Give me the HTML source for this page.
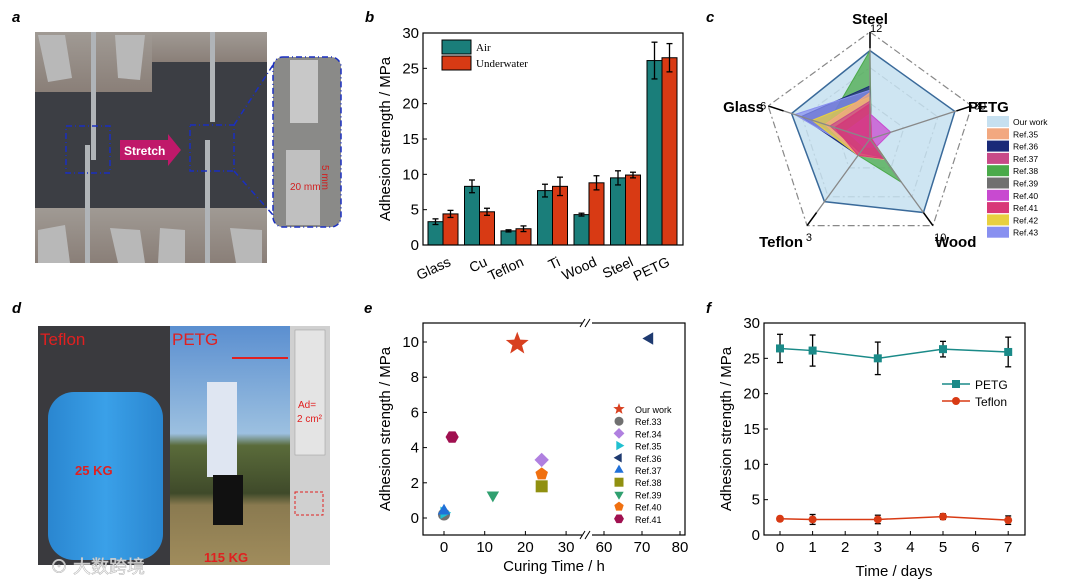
<!DOCTYPE html>
<html><head><meta charset="utf-8"><style>
html,body{margin:0;padding:0;background:#fff}
svg{display:block;font-family:"Liberation Sans","Noto Sans CJK SC",sans-serif}
</style></head><body>
<svg id="fig" width="1080" height="585" viewBox="0 0 1080 585" xmlns="http://www.w3.org/2000/svg">
<defs>
<linearGradient id="metal" x1="0" y1="0" x2="0" y2="1"><stop offset="0" stop-color="#a09a94"/><stop offset="1" stop-color="#8a7f78"/></linearGradient>
<linearGradient id="sky" x1="0" y1="0" x2="0" y2="1"><stop offset="0" stop-color="#5b8fd0"/><stop offset="0.45" stop-color="#9cc0e0"/><stop offset="0.5" stop-color="#5a6b3a"/><stop offset="0.7" stop-color="#3f4a2a"/><stop offset="0.75" stop-color="#8a7a50"/><stop offset="1" stop-color="#a08c5c"/></linearGradient>
<linearGradient id="jug" x1="0" y1="0" x2="1" y2="0"><stop offset="0" stop-color="#2a86d0"/><stop offset="0.5" stop-color="#3aa0e8"/><stop offset="1" stop-color="#2a86d0"/></linearGradient>
</defs>

<!-- Panel a -->
<g>
<text x="12" y="22" font-size="15" font-weight="bold" font-style="italic">a</text>
<rect x="35" y="32" width="232" height="231" fill="#3c3e44"/>
<rect x="35" y="32" width="117" height="60" fill="url(#metal)"/>
<rect x="152" y="32" width="115" height="30" fill="url(#metal)"/>
<rect x="35" y="208" width="117" height="55" fill="url(#metal)"/>
<rect x="152" y="208" width="115" height="55" fill="url(#metal)"/>
<polygon points="38,35 65,35 72,78 48,82" fill="#b8b8b8"/>
<polygon points="115,35 145,35 140,80 118,78" fill="#b8b8b8"/>
<polygon points="38,230 65,225 70,263 38,263" fill="#b8b8b8"/>
<polygon points="110,228 140,230 145,263 118,263" fill="#b8b8b8"/>
<polygon points="160,228 185,230 185,263 158,263" fill="#b8b8b8"/>
<polygon points="230,228 262,230 262,263 236,263" fill="#b8b8b8"/>
<rect x="91" y="32" width="5" height="128" fill="#b0b4b8"/>
<rect x="85" y="145" width="5" height="118" fill="#b0b4b8"/>
<rect x="210" y="32" width="5" height="90" fill="#b0b4b8"/>
<rect x="205" y="140" width="5" height="123" fill="#b0b4b8"/>
<rect x="66" y="126" width="44" height="47" fill="none" stroke="#1a2fc0" stroke-width="1.5" stroke-dasharray="6,3,1,3"/>
<rect x="190" y="125" width="44" height="46" fill="none" stroke="#1a2fc0" stroke-width="1.5" stroke-dasharray="6,3,1,3"/>
<polygon points="120,140 168,140 168,134 181,150 168,166 168,160 120,160" fill="#c0186a"/>
<text x="124" y="155" font-size="12" font-weight="bold" fill="#fff">Stretch</text>
<rect x="273" y="57" width="68" height="170" rx="10" fill="#8a8a88" stroke="#1a2fc0" stroke-width="1.5" stroke-dasharray="6,3,1,3"/>
<rect x="290" y="60" width="28" height="63" fill="#c8c8c8"/>
<rect x="286" y="150" width="34" height="75" fill="#c0c0c0"/>
<line x1="234" y1="125" x2="273" y2="65" stroke="#1a2fc0" stroke-width="1.5" stroke-dasharray="6,3,1,3"/>
<line x1="234" y1="171" x2="273" y2="215" stroke="#1a2fc0" stroke-width="1.5" stroke-dasharray="6,3,1,3"/>
<text x="290" y="190" font-size="10" fill="#d02020">20 mm</text>
<text x="322" y="165" font-size="10" fill="#d02020" transform="rotate(90 322 165)">5 mm</text>
</g>

<!-- Panel d -->
<g>
<text x="12" y="313" font-size="15" font-weight="bold" font-style="italic">d</text>
<rect x="38" y="326" width="132" height="239" fill="#3a3a3e"/>
<rect x="48" y="392" width="115" height="168" rx="26" fill="url(#jug)"/>
<rect x="170" y="326" width="120" height="239" fill="url(#sky)"/>
<rect x="207" y="382" width="30" height="95" fill="#dfe6f2"/>
<rect x="213" y="475" width="30" height="50" fill="#111"/>
<rect x="290" y="326" width="40" height="239" fill="#d0d0d0"/>
<rect x="295" y="330" width="30" height="125" fill="#e4e4e4" stroke="#999" stroke-width="0.5"/>
<line x1="232" y1="358" x2="288" y2="358" stroke="#e02020" stroke-width="2"/>
<rect x="295" y="492" width="28" height="23" fill="none" stroke="#e02020" stroke-dasharray="3,2"/>
<text x="40" y="345" font-size="17" fill="#e02020">Teflon</text>
<text x="172" y="345" font-size="17" fill="#e02020">PETG</text>
<text x="75" y="475" font-size="13" font-weight="bold" fill="#e02020">25 KG</text>
<text x="204" y="562" font-size="13" font-weight="bold" fill="#e02020">115 KG</text>
<text x="298" y="408" font-size="10" fill="#e02020">Ad=</text>
<text x="297" y="422" font-size="10" fill="#e02020">2 cm²</text>
<text x="50" y="573" font-size="18" fill="#ffffff" fill-opacity="0.75" stroke="#bbb" stroke-width="0.6">⊙ 大数跨境</text>
</g>

<!-- Panel b -->
<g id="pb">
<text x="365" y="22" font-size="15" font-weight="bold" font-style="italic">b</text>
</g>
<!-- Panel c -->
<g id="pc">
<text x="706" y="22" font-size="15" font-weight="bold" font-style="italic">c</text>
</g>
<!-- Panel e -->
<g id="pe">
<text x="364" y="313" font-size="15" font-weight="bold" font-style="italic">e</text>
</g>
<!-- Panel f -->
<g id="pf">
<text x="706" y="313" font-size="15" font-weight="bold" font-style="italic">f</text>
</g>
</svg>
<script>
// ---------- Panel b data ----------
const bCategories = ["Glass","Cu","Teflon","Ti","Wood","Steel","PETG"];
const bAir = [3.3,8.3,2.0,7.7,4.3,9.5,26.1];
const bAirErr = [0.4,0.9,0.15,0.9,0.2,1.0,2.6];
const bWater = [4.4,4.7,2.3,8.3,8.8,9.9,26.5];
const bWaterErr = [0.5,0.5,0.4,1.3,1.0,0.4,2.0];
const bTicks = [0,5,10,15,20,25,30];
// ---------- Panel c data (Steel, PETG, Wood, Teflon, Glass) ----------
const cAxes = ["Steel","PETG","Wood","Teflon","Glass"];
const cMax = [12,30,10,3,6];
const cSeriesNames = ["Our work","Ref.35","Ref.36","Ref.37","Ref.38","Ref.39","Ref.40","Ref.41","Ref.42","Ref.43"];
const cColors = ["#c6e0f0","#f2a880","#1a2a78","#c84a88","#4aaa4a","#707070","#c84ad0","#d83878","#e8d040","#8890f0"];
const cOurs = [10.5,26.5,9.0,2.3,4.9];
const cRef35 = [5.5,0.5,2.5,0.6,2.8];
const cRef36 = [6.3,0.5,2.4,0.6,4.3];
const cRef37 = [4.5,0.3,2.3,0.5,2.5];
const cRef38 = [10.5,0.4,5.3,0.6,2.7];
const cRef39 = [4.0,0.3,2.2,0.5,2.2];
const cRef40 = [3.0,6.5,1.0,0.3,1.5];
const cRef41 = [4.2,0.4,2.4,0.6,2.2];
const cRef42 = [5.0,0.4,2.4,0.6,3.6];
const cRef43 = [5.8,0.4,2.3,0.5,4.7];
// ---------- Panel e data ----------
const eNames = ["Our work","Ref.33","Ref.34","Ref.35","Ref.36","Ref.37","Ref.38","Ref.39","Ref.40","Ref.41"];
const eX = [18,0,24,0,72,0,24,12,24,2];
const eY = [9.9,0.2,3.3,0.3,10.2,0.4,1.8,1.3,2.5,4.6];
const eColors = ["#d84020","#707070","#b080e0","#20c0d0","#1e3a70","#2070d8","#909010","#30a070","#f07010","#a01050"];
const eShapes = ["star","circle","diamond","tri-right","tri-left","tri-up","square","tri-down","pentagon","hexagon"];
const eYTicks = [0,2,4,6,8,10];
const eXTicks = [0,10,20,30,60,70,80];
// ---------- Panel f data ----------
const fDays = [0,1,3,5,7];
const fPETG = [26.4,26.1,25.0,26.3,25.9];
const fPETGErr = [2.0,2.2,2.3,1.1,2.1];
const fTeflon = [2.3,2.2,2.2,2.6,2.1];
const fTeflonErr = [0.3,0.7,0.6,0.4,0.6];
const fYTicks = [0,5,10,15,20,25,30];
const fXTicks = [0,1,2,3,4,5,6,7];

const NS="http://www.w3.org/2000/svg";
function mk(parent,tag,attrs,text){const e=document.createElementNS(NS,tag);for(const k in attrs)e.setAttribute(k,attrs[k]);if(text!==undefined)e.textContent=text;parent.appendChild(e);return e;}

// ===== Panel b =====
(function(){
const g=document.getElementById('pb');
const L=423,R=683,T=33,B=245;
const y=v=>B-(v/30)*(B-T);
const x0=443,step=36.5,bw=15;
bCategories.forEach((c,i)=>{
 const cx=x0+step*i;
 const ra=mk(g,'rect',{x:cx-bw,y:y(bAir[i]),width:bw,height:B-y(bAir[i]),fill:'#1a7e7a',stroke:'#000','stroke-width':1});
 
 
 const rw=mk(g,'rect',{x:cx,y:y(bWater[i]),width:bw,height:B-y(bWater[i]),fill:'#d83a14',stroke:'#000','stroke-width':1});
 
 
 [[cx-bw/2,bAir[i],bAirErr[i]],[cx+bw/2,bWater[i],bWaterErr[i]]].forEach(([ex,v,e])=>{
  mk(g,'line',{x1:ex,x2:ex,y1:y(v+e),y2:y(v-e),stroke:'#000','stroke-width':1.3});
  mk(g,'line',{x1:ex-3,x2:ex+3,y1:y(v+e),y2:y(v+e),stroke:'#000','stroke-width':1.3});
  mk(g,'line',{x1:ex-3,x2:ex+3,y1:y(v-e),y2:y(v-e),stroke:'#000','stroke-width':1.3});
 });
 const t=mk(g,'text',{x:cx+4,y:B+10,'font-size':14,'text-anchor':'end',transform:`rotate(-25 ${cx+4} ${B+10})`,dy:'0.8em'},c);
 
 
});
const fr=mk(g,'rect',{x:L,y:T,width:R-L,height:B-T,fill:'none',stroke:'#000','stroke-width':1.2});


bTicks.forEach(v=>{
 mk(g,'line',{x1:L,x2:L+4,y1:y(v),y2:y(v),stroke:'#000'});
 const t=mk(g,'text',{x:L-4,y:y(v)+5,'font-size':15,'text-anchor':'end'},v);
 
 
});
const yt=mk(g,'text',{x:390,y:(T+B)/2,'font-size':15,'text-anchor':'middle',transform:`rotate(-90 390 ${(T+B)/2})`},'Adhesion strength / MPa');


[['Air','#1a7e7a',40],['Underwater','#d83a14',56]].forEach(([n,c,yy])=>{
 mk(g,'rect',{x:442,y:yy,width:29,height:14,fill:c,stroke:'#000'});
 const t=mk(g,'text',{x:476,y:yy+11,'font-size':11,'font-family':'Liberation Serif, serif'},n);
 
 
});
})();

// ===== Panel c =====
(function(){
const g=document.getElementById('pc');
const cx=870,cy=139,Rr=101;
const ang=i=>(-90+72*i)*Math.PI/180;
const pt=(i,f)=>[cx+Rr*f*Math.cos(ang(i)),cy+Rr*f*Math.sin(ang(i))];
const poly=vals=>vals.map((v,i)=>pt(i,v/cMax[i]).join(',')).join(' ');
// outer dashed rings
[1,2/3,1/3].forEach(f=>{
 mk(g,'polygon',{points:[0,1,2,3,4].map(i=>pt(i,f*1.06).join(',')).join(' '),fill:'none',stroke:'#888','stroke-width':1.2,'stroke-dasharray':'7,3,2,3'});
});
const series=[cOurs,cRef35,cRef36,cRef37,cRef38,cRef39,cRef40,cRef41,cRef42,cRef43];
const order=[0,4,2,9,8,1,5,3,6,7];
order.forEach(k=>{
 const p=mk(g,'polygon',{points:poly(series[k]),fill:cColors[k],'fill-opacity':k===0?0.85:0.75,stroke:k===0?'#3a6a9a':cColors[k],'stroke-width':k===0?1.5:1});
 
 
});
[0,1,2,3,4].forEach(i=>{
 const [ex,ey]=pt(i,1.06);
 mk(g,'line',{x1:cx,y1:cy,x2:ex,y2:ey,stroke:'#888','stroke-width':1.3});
 const [ix,iy]=pt(i,0.9);
 mk(g,'line',{x1:ix,y1:iy,x2:ex,y2:ey,stroke:'#000','stroke-width':1.5});
 const [tx,ty]=pt(i,1.08);
 mk(g,'text',{x:tx,y:ty+(i===0?2:i>=2&&i<=3?14:4),'font-size':11,'text-anchor':i===4?'end':'start'},cMax[i]);
});
const labels=[[870,24,'middle'],[968,112,'start'],[935,247,'start'],[803,247,'end'],[764,112,'end']];
cAxes.forEach((a,i)=>{
 const t=mk(g,'text',{x:labels[i][0],y:labels[i][1],'font-size':15,'font-weight':'bold','text-anchor':labels[i][2]},a);
 
 
});
cSeriesNames.forEach((n,i)=>{
 const yy=116+i*12.3;
 mk(g,'rect',{x:987,y:yy,width:22,height:11,fill:cColors[i]});
 const t=mk(g,'text',{x:1013,y:yy+9,'font-size':8.5},n);
 
 
});
})();

// ===== Panel e =====
(function(){
const g=document.getElementById('pe');
const L=423,R=685,T=323,B=535;
const y=v=>518-v*17.6;
const x=h=>h<=35?444+h*4.07:604+(h-60)*3.8;
function shape(s,px,py,c,r){
 let p;
 const reg=(n,rot,rr)=>Array.from({length:n},(_,k)=>{const a=(rot+360*k/n)*Math.PI/180;return [px+rr*Math.cos(a),py+rr*Math.sin(a)].join(',');}).join(' ');
 if(s==='circle')return mk(g,'circle',{cx:px,cy:py,r:r,fill:c});
 if(s==='square')return mk(g,'rect',{x:px-r,y:py-r,width:2*r,height:2*r,fill:c});
 if(s==='star'){p=Array.from({length:10},(_,k)=>{const a=(-90+36*k)*Math.PI/180;const rr=k%2?r*0.42:r;return [px+rr*Math.cos(a),py+rr*Math.sin(a)].join(',');}).join(' ');}
 else if(s==='diamond')p=reg(4,-90,r*1.2);
 else if(s==='tri-up')p=reg(3,-90,r*1.2);
 else if(s==='tri-down')p=reg(3,90,r*1.2);
 else if(s==='tri-left')p=reg(3,180,r*1.2);
 else if(s==='tri-right')p=reg(3,0,r*1.2);
 else if(s==='pentagon')p=reg(5,-90,r*1.1);
 else p=reg(6,0,r*1.1);
 return mk(g,'polygon',{points:p,fill:c});
}
eX.forEach((h,i)=>{
 const m=shape(eShapes[i],x(h),y(eY[i]),eColors[i],i===0?12:6);
 
 
});
const fr=mk(g,'rect',{x:L,y:T,width:R-L,height:B-T,fill:'none',stroke:'#000','stroke-width':1.2});


mk(g,'rect',{x:582,y:318,width:10,height:10,fill:'#fff'});
mk(g,'rect',{x:582,y:530,width:10,height:10,fill:'#fff'});
[[582],[587]].forEach(([bx])=>{mk(g,'line',{x1:bx-2,y1:327,x2:bx+3,y2:319,stroke:'#000'});mk(g,'line',{x1:bx-2,y1:539,x2:bx+3,y2:531,stroke:'#000'});});
eYTicks.forEach(v=>{
 mk(g,'line',{x1:L,x2:L+4,y1:y(v),y2:y(v),stroke:'#000'});
 const t=mk(g,'text',{x:L-4,y:y(v)+5,'font-size':15,'text-anchor':'end'},v);
 
 
});
eXTicks.forEach(v=>{
 mk(g,'line',{x1:x(v),x2:x(v),y1:B,y2:B-4,stroke:'#000'});
 const t=mk(g,'text',{x:x(v),y:B+17,'font-size':15,'text-anchor':'middle'},v);
 
 
});
const xt=mk(g,'text',{x:554,y:571,'font-size':15,'text-anchor':'middle'},'Curing Time / h');


const yt=mk(g,'text',{x:390,y:429,'font-size':15,'text-anchor':'middle',transform:'rotate(-90 390 429)'},'Adhesion strength / MPa');


eNames.forEach((n,i)=>{
 const yy=409+i*12.2;
 const m=shape(eShapes[i],619,yy,eColors[i],i===0?6:4.5);
 const t=mk(g,'text',{x:635,y:yy+4,'font-size':9},n);
 
 
});
})();

// ===== Panel f =====
(function(){
const g=document.getElementById('pf');
const L=764,R=1025,T=323,B=535;
const y=v=>B-(v/30)*(B-T);
const x=d=>780+d*32.6;
function series(vals,errs,col,name,circ){
 mk(g,'polyline',{points:fDays.map((d,i)=>x(d)+','+y(vals[i])).join(' '),fill:'none',stroke:col,'stroke-width':1.5});
 fDays.forEach((d,i)=>{
  const px=x(d),v=vals[i],e=errs[i];
  mk(g,'line',{x1:px,x2:px,y1:y(v+e),y2:y(v-e),stroke:'#000','stroke-width':1.3});
  mk(g,'line',{x1:px-3,x2:px+3,y1:y(v+e),y2:y(v+e),stroke:'#000','stroke-width':1.3});
  mk(g,'line',{x1:px-3,x2:px+3,y1:y(v-e),y2:y(v-e),stroke:'#000','stroke-width':1.3});
  const m=circ?mk(g,'circle',{cx:px,cy:y(v),r:4,fill:col}):mk(g,'rect',{x:px-4,y:y(v)-4,width:8,height:8,fill:col});
  
  
 });
}
series(fPETG,fPETGErr,'#1a8a88','petg',false);
series(fTeflon,fTeflonErr,'#d83a14','teflon',true);
const fr=mk(g,'rect',{x:L,y:T,width:R-L,height:B-T,fill:'none',stroke:'#000','stroke-width':1.2});


fYTicks.forEach(v=>{
 mk(g,'line',{x1:L,x2:L+4,y1:y(v),y2:y(v),stroke:'#000'});
 const t=mk(g,'text',{x:L-4,y:y(v)+5,'font-size':15,'text-anchor':'end'},v);
 
 
});
fXTicks.forEach(v=>{
 mk(g,'line',{x1:x(v),x2:x(v),y1:B,y2:B-4,stroke:'#000'});
 const t=mk(g,'text',{x:x(v),y:B+17,'font-size':15,'text-anchor':'middle'},v);
 
 
});
const xt=mk(g,'text',{x:894,y:576,'font-size':15,'text-anchor':'middle'},'Time / days');


const yt=mk(g,'text',{x:731,y:429,'font-size':15,'text-anchor':'middle',transform:'rotate(-90 731 429)'},'Adhesion strength / MPa');


[['PETG','#1a8a88',384,false],['Teflon','#d83a14',401,true]].forEach(([n,c,yy,circ])=>{
 mk(g,'line',{x1:942,x2:970,y1:yy,y2:yy,stroke:c,'stroke-width':1.5});
 if(circ)mk(g,'circle',{cx:956,cy:yy,r:4,fill:c});else mk(g,'rect',{x:952,y:yy-4,width:8,height:8,fill:c});
 const t=mk(g,'text',{x:975,y:yy+5,'font-size':12},n);
 
 
});
})();
</script>
</body></html>
